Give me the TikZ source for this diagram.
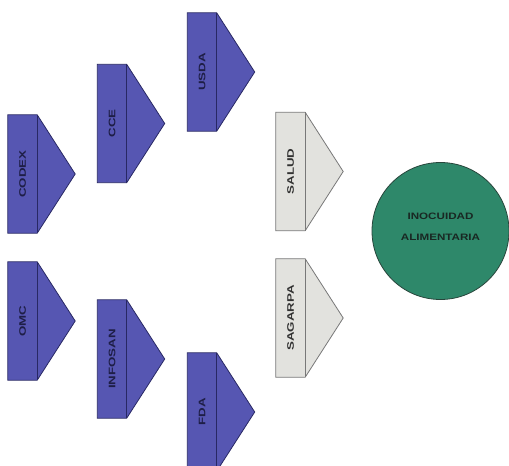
\documentclass[tikz,border=0pt]{standalone}
\usepackage{fontspec}
\newfontfamily\lblfont[FakeStretch=1.4]{Liberation Sans}
\newfontfamily\goalfont[FakeStretch=1.25]{Liberation Sans}
\usetikzlibrary{calc}
\definecolor{bluefill}{RGB}{86,86,178}
\definecolor{blueline}{RGB}{40,40,100}
\definecolor{bluetext}{RGB}{30,30,70}
\definecolor{grayfill}{RGB}{226,226,222}
\definecolor{grayline}{RGB}{120,120,120}
\definecolor{graytext}{RGB}{50,50,50}
\definecolor{greenfill}{RGB}{46,136,106}
\definecolor{greenline}{RGB}{40,70,60}
\definecolor{greentext}{RGB}{25,40,35}
\tikzset{
  anchorbox/.style={minimum width=29pt, minimum height=118pt, inner sep=0pt, draw=none},
  blueshape/.style={fill=bluefill, draw=blueline, line width=0.8pt, line join=miter},
  grayshape/.style={fill=grayfill, draw=grayline, line width=0.8pt, line join=miter},
  bluediv/.style={draw=blueline, line width=0.8pt},
  graydiv/.style={draw=grayline, line width=0.8pt},
  bluelbl/.style={text=bluetext, font=\lblfont\bfseries\fontsize{9.5}{11}\selectfont, inner sep=0pt},
  graylbl/.style={text=graytext, font=\lblfont\bfseries\fontsize{9.5}{11}\selectfont, inner sep=0pt},
  goal/.style={circle, fill=greenfill, draw=greenline, line width=0.8pt, minimum size=137pt, inner sep=0pt},
  goallbl/.style={text=greentext, align=center, inner sep=0pt, font=\goalfont\bfseries\fontsize{9.3}{21}\selectfont},
}
% #1 name, #2 colour set (blue/gray), #3 x, #4 y of rectangle centre, #5 label
\newcommand\chev[5]{%
  \node[anchorbox] (#1) at (#3,#4) {};
  \path[#2shape] (#1.north west) -- (#1.north east) -- ($(#1.east)+(38pt,0pt)$)
     -- (#1.south east) -- (#1.south west) -- cycle;
  \draw[#2div] (#1.north east) -- (#1.south east);
  \node[#2lbl, rotate=90] (#1-lbl) at (#1.center) {#5};
}
\begin{document}
\begin{tikzpicture}[x=1pt, y=-1pt]
\useasboundingbox (0,0) rectangle (509,466);
\clip (0,0) rectangle (509,466);
\fill[white] (0,0) rectangle (509,466);
\chev{codex}{blue}{22.5}{174}{CODEX}
\chev{omc}{blue}{22.5}{321}{OMC}
\chev{cce}{blue}{112}{123.5}{CCE}
\chev{infosan}{blue}{112}{359}{INFOSAN}
\chev{usda}{blue}{202}{72}{USDA}
\chev{fda}{blue}{202}{412}{FDA}
\chev{salud}{gray}{290.5}{171.5}{SALUD}
\chev{sagarpa}{gray}{290.5}{318}{SAGARPA}
\node[goal] (inocuidad) at (440.5,231) {};
\node[goallbl] (inocuidad-lbl) at ($(inocuidad.center)+(0,-4)$) {INOCUIDAD\\ALIMENTARIA};
\end{tikzpicture}
\end{document}
